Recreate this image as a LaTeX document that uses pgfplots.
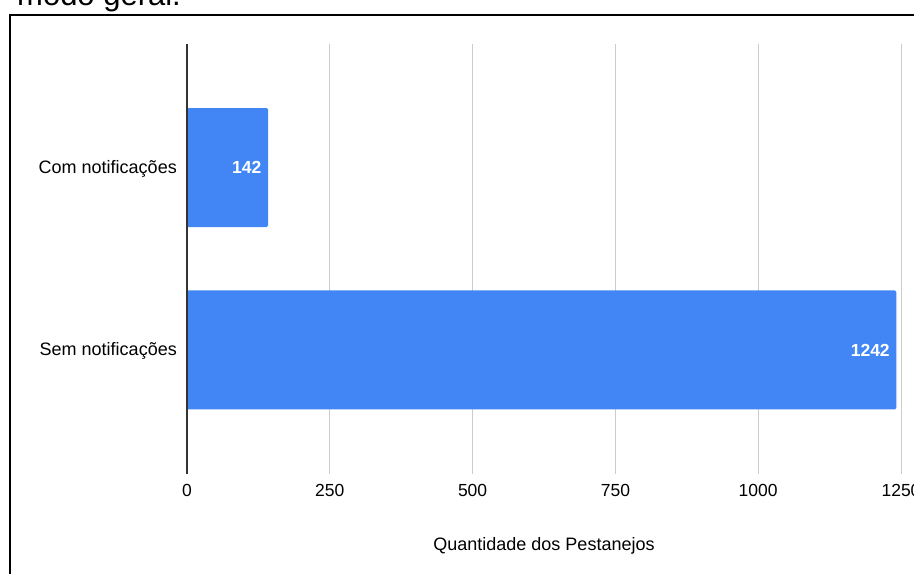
\documentclass[border=0pt]{standalone}
\usepackage{fontspec}
\setmainfont{Liberation Sans}
\usepackage{pgfplots}
\pgfplotsset{compat=1.18}

\definecolor{barblue}{HTML}{4285F4}
\definecolor{gridgray}{HTML}{CCCCCC}
\definecolor{axisgray}{HTML}{333333}

\begin{document}
\begin{tikzpicture}
\useasboundingbox (0,0) rectangle (914bp,574bp);
\clip (0,0) rectangle (914bp,574bp);

% caption line of the surrounding text and the frame around the chart
\node[anchor=base west, inner sep=0, font=\fontsize{31bp}{36bp}\selectfont] at (17bp,568bp) {modo geral.};
\draw[line width=2bp] (10bp,559bp) rectangle (1000bp,-100bp);

\begin{axis}[
  at={(187bp,100bp)}, anchor=south west,
  scale only axis, width=714bp, height=430bp,
  xbar, bar width=119bp,
  xmin=0, xmax=1250, ymin=-0.68, ymax=1.677,
  axis line style={draw=none},
  major tick length=0pt,
  tick style={draw=none},
  xtick={0,250,500,750,1000,1250},
  ytick={0,1},
  yticklabels={Sem notificações, Com notificações},
  xmajorgrids,
  grid style={color=gridgray, line width=1bp},
  /pgf/number format/assume math mode=true,
  /pgf/number format/set thousands separator={},
  xticklabel style={anchor=base, inner sep=0pt, yshift=-22.5bp,
    font=\fontsize{17.5bp}{21bp}\selectfont},
  yticklabel style={anchor=base east, inner sep=0pt, xshift=-10bp, yshift=-5.5bp,
    font=\fontsize{18bp}{21bp}\selectfont},
  xlabel={Quantidade dos Pestanejos},
  xlabel style={at={(axis description cs:0.5,0)}, anchor=base, inner sep=0pt,
    yshift=-76.7bp, font=\fontsize{18bp}{21bp}\selectfont},
  nodes near coords,
  every node near coord/.append style={anchor=east, inner sep=0pt, xshift=-6.5bp,
    text=white, font=\bfseries\fontsize{17.5bp}{21bp}\selectfont},
  clip=false,
]
\addplot[fill=barblue, draw=none, rounded corners=1.5bp] coordinates {(1242,0) (142,1)};
\draw[axisgray, line width=1.5bp] (axis cs:0,-0.68) -- (axis cs:0,1.677);
\end{axis}
\end{tikzpicture}
\end{document}
